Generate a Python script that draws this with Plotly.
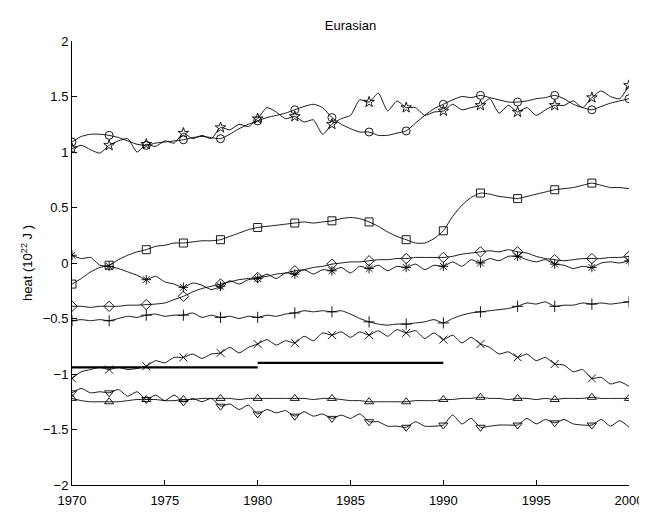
import plotly.graph_objects as go

# ─── 데이터 (반년 간격, 1970-2000) ──────────────────
YEARS = [1970 + i / 2 for i in range(61)]

circle_vals = [
    1.09, 1.14, 1.16, 1.16, 1.15, 1.13, 1.10, 1.07, 1.06, 1.08,
    1.09, 1.10, 1.11, 1.13, 1.14, 1.13, 1.12, 1.16, 1.21, 1.25,
    1.28, 1.31, 1.33, 1.35, 1.38, 1.41, 1.43, 1.40, 1.31, 1.25,
    1.21, 1.18, 1.18, 1.15, 1.15, 1.17, 1.19, 1.26, 1.33, 1.39,
    1.43, 1.47, 1.50, 1.49, 1.51, 1.49, 1.47, 1.45, 1.45, 1.46,
    1.48, 1.49, 1.51, 1.48, 1.43, 1.40, 1.38, 1.41, 1.44, 1.46,
    1.48,
]
star_vals = [
    1.03, 1.06, 1.02, 0.99, 1.06, 1.10, 1.12, 1.00, 1.07, 1.05,
    1.10, 1.08, 1.17, 1.12, 1.15, 1.12, 1.22, 1.20, 1.25, 1.23,
    1.30, 1.40, 1.36, 1.30, 1.32, 1.27, 1.29, 1.16, 1.25, 1.30,
    1.33, 1.47, 1.45, 1.53, 1.37, 1.46, 1.40, 1.40, 1.33, 1.36,
    1.37, 1.43, 1.38, 1.40, 1.42, 1.48, 1.35, 1.42, 1.36, 1.40,
    1.33, 1.38, 1.42, 1.42, 1.46, 1.40, 1.49, 1.55, 1.50, 1.48,
    1.60,
]
square_vals = [
    -0.19, -0.14, -0.08, -0.04, -0.02, 0.03, 0.07, 0.10, 0.12, 0.15,
    0.16, 0.18, 0.18, 0.19, 0.20, 0.20, 0.21, 0.24, 0.27, 0.30,
    0.32, 0.33, 0.34, 0.35, 0.36, 0.37, 0.36, 0.37, 0.38, 0.40,
    0.41, 0.40, 0.37, 0.33, 0.28, 0.24, 0.21, 0.18, 0.18, 0.22,
    0.29, 0.42, 0.52, 0.59, 0.63, 0.62, 0.60, 0.59, 0.58, 0.60,
    0.62, 0.64, 0.66, 0.67, 0.68, 0.70, 0.72, 0.70, 0.68, 0.68,
    0.67,
]
asterisk_vals = [
    0.07, 0.04, 0.05, -0.02, -0.03, -0.05, -0.08, -0.11, -0.15, -0.12,
    -0.17, -0.19, -0.22, -0.18, -0.20, -0.24, -0.21, -0.16, -0.19, -0.15,
    -0.14, -0.10, -0.14, -0.09, -0.10, -0.06, -0.10, -0.06, -0.07, -0.04,
    -0.09, -0.03, -0.05, -0.02, -0.07, -0.03, -0.04, -0.01, -0.06, -0.02,
    -0.03, 0.01, -0.03, 0.03, 0.00, 0.04, 0.02, 0.06, 0.06, 0.03,
    0.01, 0.03, -0.01, -0.02, -0.05, -0.03, -0.04, 0.00, 0.01, 0.00,
    0.02,
]
diamond_vals = [
    -0.39, -0.39, -0.40, -0.39, -0.39, -0.39, -0.38, -0.38, -0.375, -0.37,
    -0.36, -0.33, -0.30, -0.26, -0.23, -0.21, -0.19, -0.17, -0.15, -0.14,
    -0.13, -0.12, -0.10, -0.09, -0.07, -0.06, -0.04, -0.03, -0.01, 0.00,
    0.01, 0.01, 0.02, 0.03, 0.03, 0.04, 0.04, 0.05, 0.05, 0.05,
    0.05, 0.06, 0.08, 0.09, 0.10, 0.11, 0.10, 0.12, 0.10, 0.09,
    0.06, 0.04, 0.03, 0.02, 0.03, 0.04, 0.04, 0.04, 0.05, 0.05,
    0.06,
]
plus_vals = [
    -0.52, -0.51, -0.52, -0.51, -0.52, -0.50, -0.48, -0.49, -0.47, -0.46,
    -0.48, -0.47, -0.47, -0.45, -0.49, -0.47, -0.49, -0.48, -0.50, -0.48,
    -0.49, -0.47, -0.48, -0.46, -0.45, -0.43, -0.44, -0.43, -0.44, -0.43,
    -0.46, -0.50, -0.53, -0.55, -0.56, -0.55, -0.55, -0.54, -0.53, -0.51,
    -0.54, -0.50, -0.47, -0.45, -0.44, -0.43, -0.42, -0.41, -0.39, -0.36,
    -0.37, -0.35, -0.39, -0.38, -0.38, -0.36, -0.37, -0.36, -0.37, -0.36,
    -0.35,
]
x_vals = [
    -1.04, -0.98, -0.96, -0.94, -0.96, -0.94, -0.96, -0.95, -0.93, -0.88,
    -0.90, -0.85, -0.85, -0.82, -0.86, -0.82, -0.81, -0.76, -0.81, -0.76,
    -0.73, -0.69, -0.74, -0.70, -0.72, -0.66, -0.70, -0.63, -0.65, -0.62,
    -0.67, -0.62, -0.65, -0.61, -0.66, -0.60, -0.63, -0.61, -0.68, -0.63,
    -0.69, -0.65, -0.72, -0.67, -0.73, -0.76, -0.82, -0.80, -0.85, -0.82,
    -0.88, -0.85, -0.91, -0.92, -0.98, -0.96, -1.04, -1.03, -1.09, -1.07,
    -1.11,
]
tri_up_vals = [
    -1.22, -1.24, -1.25, -1.25, -1.25, -1.25, -1.24, -1.23, -1.23, -1.23,
    -1.24, -1.24, -1.23, -1.23, -1.22, -1.22, -1.22, -1.22, -1.23, -1.22,
    -1.22, -1.22, -1.22, -1.22, -1.22, -1.22, -1.23, -1.22, -1.22, -1.23,
    -1.24, -1.24, -1.25, -1.25, -1.25, -1.25, -1.25, -1.24, -1.24, -1.24,
    -1.23, -1.23, -1.22, -1.22, -1.21, -1.22, -1.22, -1.23, -1.22, -1.22,
    -1.23, -1.22, -1.23, -1.22, -1.22, -1.22, -1.21, -1.22, -1.22, -1.22,
    -1.22,
]
tri_down_vals = [
    -1.17, -1.13, -1.17, -1.16, -1.17, -1.14, -1.20, -1.16, -1.23, -1.19,
    -1.24, -1.19, -1.25, -1.22, -1.25, -1.22, -1.29, -1.27, -1.32, -1.28,
    -1.36, -1.32, -1.35, -1.33, -1.38, -1.34, -1.38, -1.36, -1.40, -1.37,
    -1.40, -1.36, -1.43, -1.43, -1.47, -1.47, -1.48, -1.43, -1.47, -1.47,
    -1.46, -1.37, -1.45, -1.40, -1.48, -1.47, -1.46, -1.46, -1.46, -1.40,
    -1.45, -1.41, -1.44, -1.41, -1.45, -1.46, -1.46, -1.41, -1.47, -1.42,
    -1.48,
]

# 굵은 수평선 (기간 평균)
BAR_PERIODS = [(1970, 1980), (1980, 1990)]
BAR_VALUES = [-0.94, -0.90]

# (값, 마커, 2000년 마커 표시 여부)
SERIES = [
    (circle_vals, "circle-open", True),
    (star_vals, "star-open", True),
    (square_vals, "square-open", False),
    (asterisk_vals, "asterisk-open", True),
    (diamond_vals, "diamond-open", True),
    (plus_vals, "cross-thin-open", True),
    (x_vals, "x-thin-open", False),
    (tri_up_vals, "triangle-up-open", True),
    (tri_down_vals, "triangle-down-open", False),
]

fig = go.Figure()

for vals, symbol, last_marker in SERIES:
    fig.add_trace(go.Scatter(
        x=YEARS, y=vals, mode="lines",
        line=dict(color="black", width=0.9, shape="spline", smoothing=0.6),
        showlegend=False, hoverinfo="skip",
    ))
    mx = YEARS[::4]
    my = vals[::4]
    if not last_marker:
        mx, my = mx[:-1], my[:-1]
    fig.add_trace(go.Scatter(
        x=mx, y=my, mode="markers",
        marker=dict(symbol=symbol, size=8, color="black",
                    line=dict(color="black", width=0.9)),
        showlegend=False,
    ))

for (x0, x1), v in zip(BAR_PERIODS, BAR_VALUES):
    fig.add_trace(go.Scatter(
        x=[x0, x1], y=[v, v], mode="lines",
        line=dict(color="black", width=2.2),
        showlegend=False,
    ))

fig.update_layout(
    width=647, height=512,
    margin=dict(l=64, r=16, t=33, b=31),
    paper_bgcolor="white", plot_bgcolor="white",
    font=dict(family="Liberation Sans, Arial, sans-serif", size=13, color="black"),
    title=dict(text="Eurasian", x=0.5, xref="paper", y=0.965, yanchor="middle",
               font=dict(size=13)),
    xaxis=dict(range=[1970, 2000], tickvals=[1970, 1975, 1980, 1985, 1990, 1995, 2000],
               ticks="inside", ticklen=5, tickcolor="black", ticklabelstandoff=3,
               showline=True, linecolor="black", linewidth=1,
               showgrid=False, zeroline=False, mirror=False),
    yaxis=dict(range=[-2, 2], dtick=0.5, tick0=0,
               ticks="inside", ticklen=5, tickcolor="black",
               showline=True, linecolor="black", linewidth=1,
               showgrid=False, zeroline=False, mirror=False),
    annotations=[
        dict(text="date", xref="paper", yref="paper", x=0.5, y=-0.049,
             showarrow=False, yanchor="top", font=dict(size=13)),
        dict(text="heat (10<sup>22</sup> J )", xref="paper", yref="paper",
             x=-0.081, y=0.5, textangle=-90, showarrow=False,
             xanchor="center", yanchor="middle", font=dict(size=13)),
    ],
)

fig.write_html("out.html")
